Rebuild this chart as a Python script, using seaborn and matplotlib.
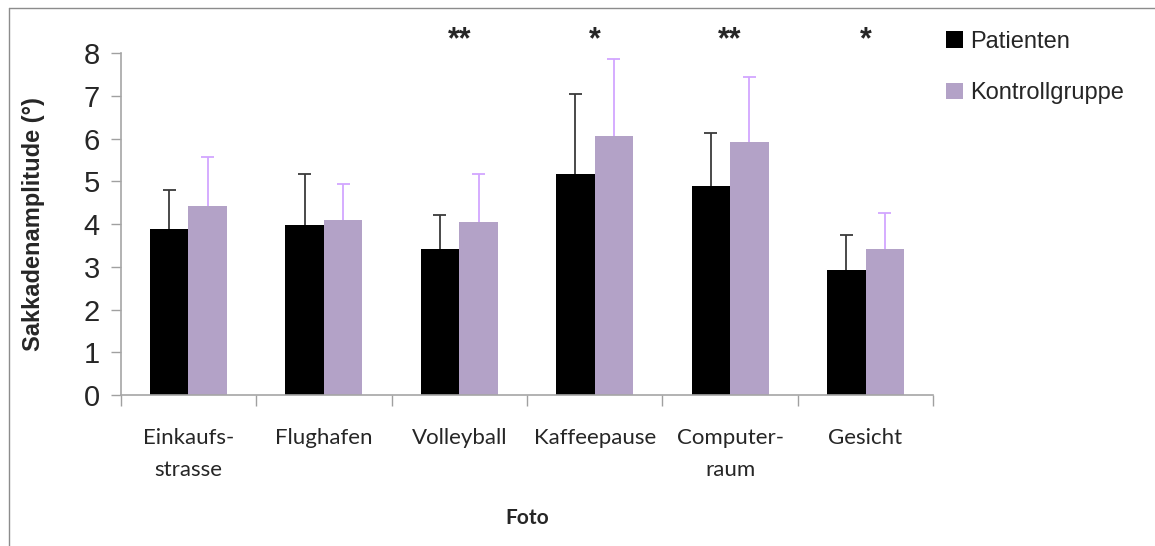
import numpy as np
import pandas as pd
import matplotlib
matplotlib.use('Agg')
import matplotlib.pyplot as plt
from matplotlib.lines import Line2D
from matplotlib.patches import Patch
import seaborn as sns

# Werte
fotos = ['Einkaufs-\nstrasse', 'Flughafen', 'Volleyball', 'Kaffeepause', 'Computer-\nraum', 'Gesicht']
patienten = [3.89, 3.98, 3.42, 5.18, 4.89, 2.93]
patienten_sd = [0.91, 1.19, 0.79, 1.86, 1.24, 0.82]
kontrolle = [4.43, 4.10, 4.05, 6.07, 5.93, 3.42]
kontrolle_sd = [1.15, 0.83, 1.12, 1.79, 1.52, 0.83]
signifikanz = ['', '', '**', '*', '**', '*']
gruppen = ['Patienten', 'Kontrollgruppe']

farben = {'Patienten': '#000000', 'Kontrollgruppe': '#b3a2c7'}
fehler_farben = ['#3a3a3a', '#d2a6ff']

df = pd.DataFrame({
    'Foto': fotos * 2,
    'Gruppe': [gruppen[0]] * len(fotos) + [gruppen[1]] * len(fotos),
    'Wert': patienten + kontrolle,
})

sns.set_style('white')
plt.rcParams['font.family'] = ['Liberation Sans', 'DejaVu Sans']

fig = plt.figure(figsize=(11.55, 5.46), dpi=100)
ax = fig.add_axes([0.1045, 0.2766, 0.7035, 0.6258])

sns.barplot(data=df, x='Foto', y='Wert', hue='Gruppe', palette=farben,
            width=0.57, errorbar=None, saturation=1, linewidth=0, ax=ax,
            legend=False)

# Fehlerbalken nur nach oben (wie in Excel)
kappe = 0.048
for cont, sd, col in zip(ax.containers, [patienten_sd, kontrolle_sd], fehler_farben):
    xs = np.array([b.get_x() + b.get_width() / 2 for b in cont])
    ys = np.array([b.get_height() for b in cont])
    top = ys + np.array(sd)
    ax.vlines(xs, ys, top, color=col, lw=1.3, zorder=3)
    ax.hlines(top, xs - kappe, xs + kappe, color=col, lw=1.3, zorder=3)

for i, s in enumerate(signifikanz):
    if s:
        ax.text(i, 8.3, s, ha='center', va='center', fontsize=22,
                fontweight='bold', clip_on=False)

ax.set_ylim(0, 8)
ax.set_xlim(-0.5, len(fotos) - 0.5)
ax.set_yticks(range(0, 9))
ax.tick_params(axis='y', labelsize=21, length=7, width=1, color='#a0a0a0',
               left=True, pad=8)
ax.set_xticks(range(len(fotos)))
ax.set_xticklabels(fotos, family=['Lato', 'DejaVu Sans'], fontsize=16,
                   linespacing=1.75)
ax.set_xticks(np.arange(-0.5, len(fotos)), minor=True)
ax.tick_params(axis='x', which='major', length=0, pad=24)
ax.tick_params(axis='x', which='minor', length=8, width=1, color='#a0a0a0',
               bottom=True, direction='out')

for side in ['top', 'right']:
    ax.spines[side].set_visible(False)
for side in ['left', 'bottom']:
    ax.spines[side].set_color('#a6a6a6')
    ax.spines[side].set_linewidth(1.2)

ax.set_ylabel('Sakkadenamplitude (°)', fontsize=17, fontweight='bold', labelpad=28)
ax.set_xlabel('Foto', family=['Lato', 'DejaVu Sans'], fontsize=15,
              fontweight='bold', labelpad=20)

handles = [Patch(facecolor=farben[g], edgecolor='none') for g in gruppen]
fig.legend(handles, gruppen, loc='upper left', bbox_to_anchor=(0.801, 0.983),
           frameon=False, fontsize=17, handlelength=0.7, handleheight=0.7,
           handletextpad=0.3, labelspacing=1.25)

# Rahmen des Diagrammbereichs (nur oben und links sichtbar)
fig.add_artist(Line2D([9 / 1155, 1], [1 - 8 / 546] * 2, color='#8c8c8c', lw=1))
fig.add_artist(Line2D([9 / 1155] * 2, [0, 1 - 8 / 546], color='#8c8c8c', lw=1))

fig.savefig('out.png', dpi=100)
